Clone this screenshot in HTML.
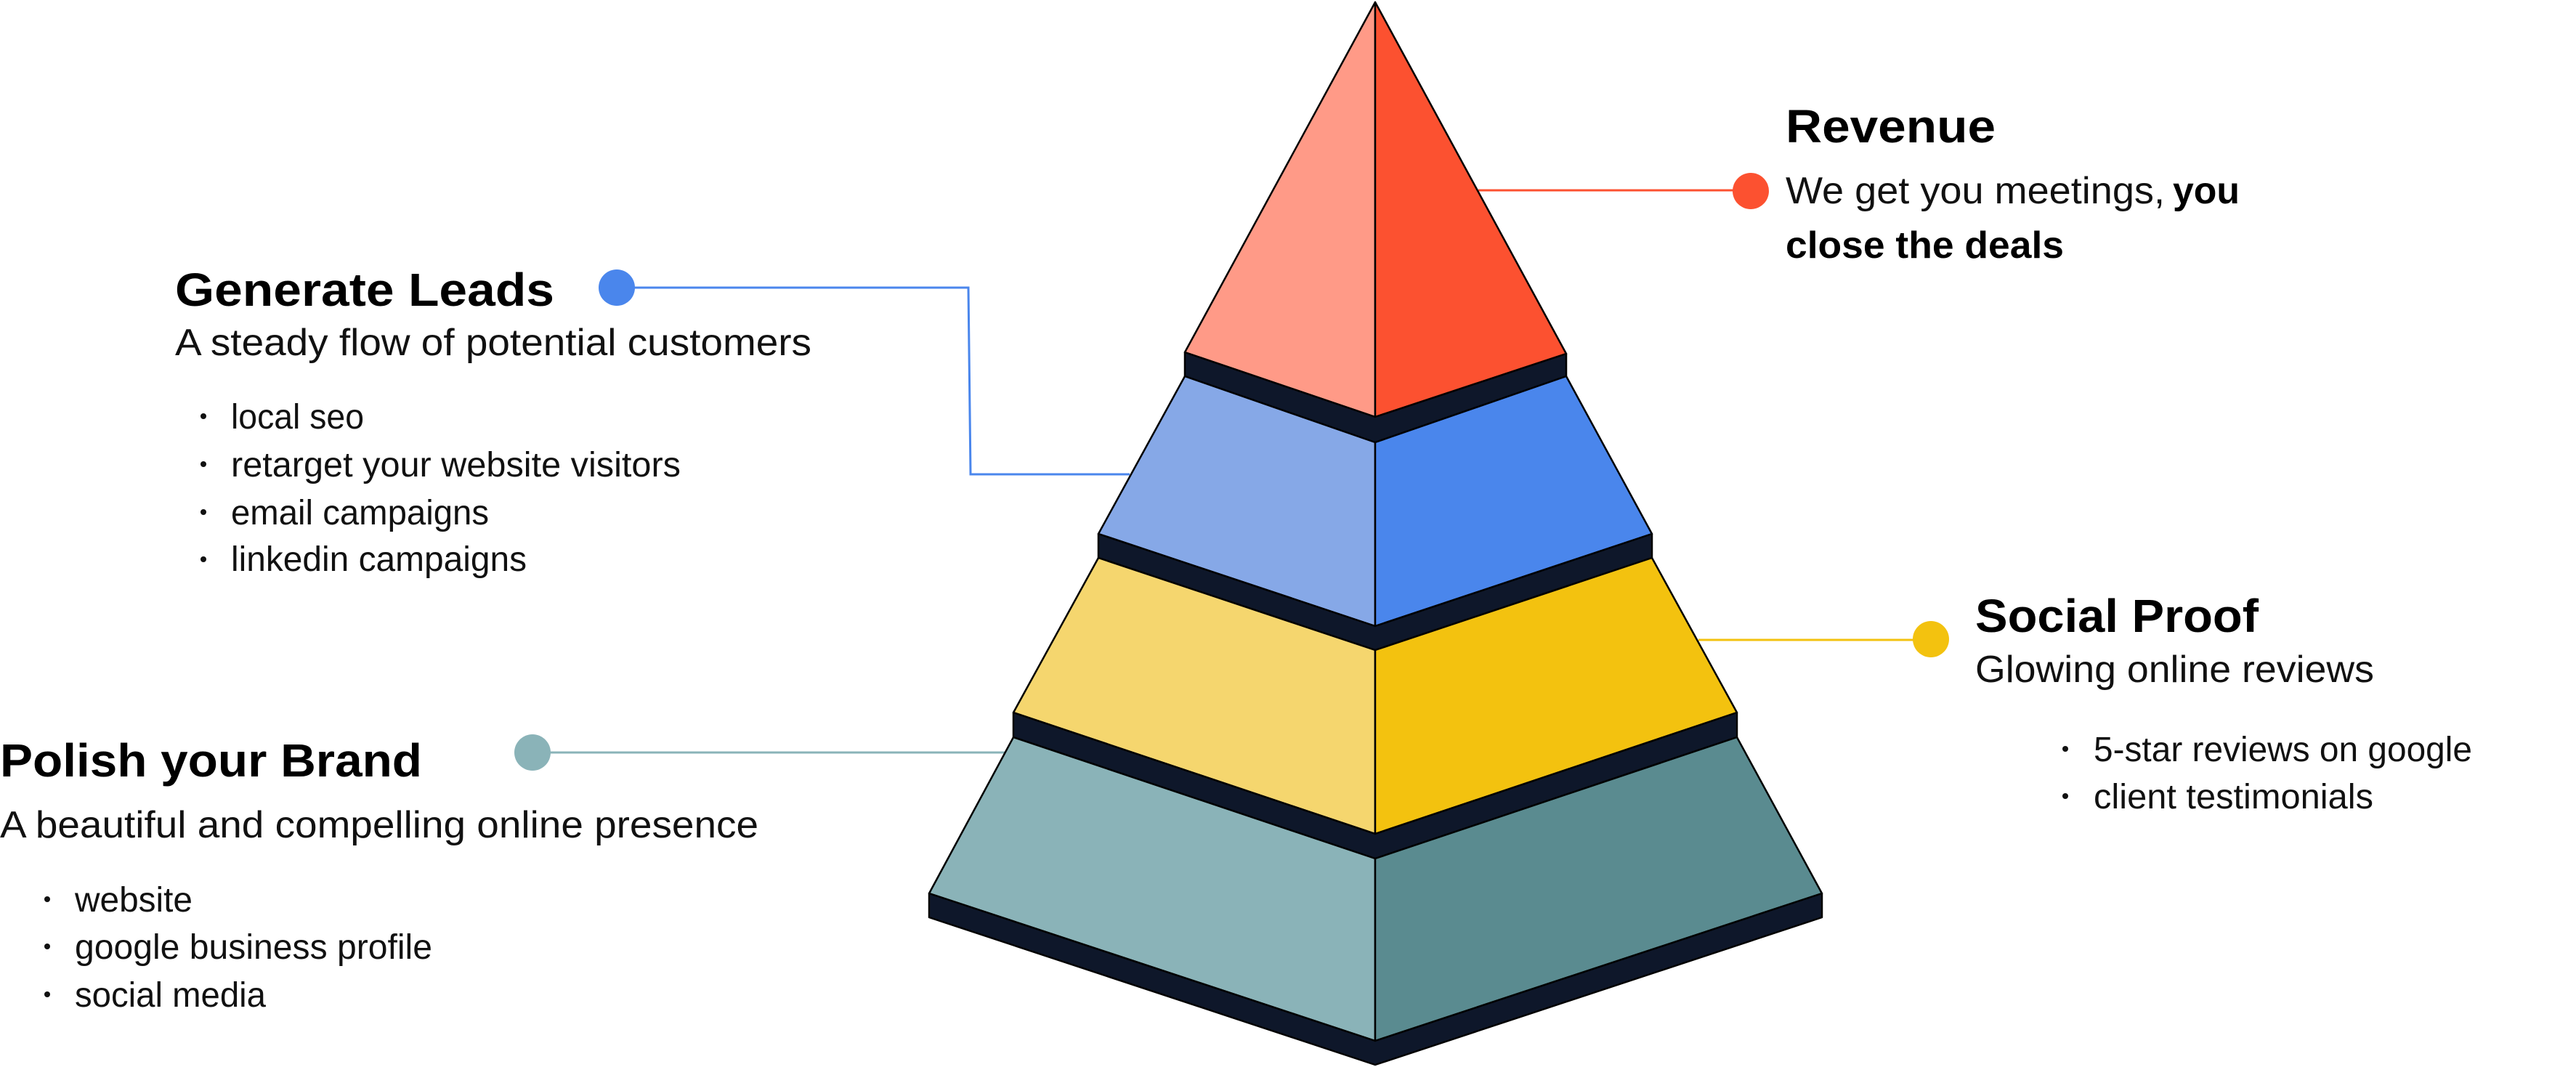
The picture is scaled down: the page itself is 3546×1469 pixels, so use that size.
<!DOCTYPE html>
<html><head><meta charset="utf-8"><style>html,body{margin:0;padding:0;background:#fff}svg{display:block}</style></head>
<body>
<svg width="3546" height="1469" viewBox="0 0 3546 1469" xmlns="http://www.w3.org/2000/svg" font-family="'Liberation Sans', sans-serif">
<rect width="3546" height="1469" fill="#fff"/>
<!-- connectors -->
<polyline points="849,396 1333,396 1336,653 1555,653" fill="none" stroke="#4A86EC" stroke-width="3"/>
<line x1="733" y1="1036" x2="1383" y2="1036" stroke="#8AB3B8" stroke-width="3"/>
<line x1="2338" y1="881" x2="2658" y2="881" stroke="#F3C20F" stroke-width="3"/>
<line x1="2035" y1="262" x2="2410" y2="262" stroke="#FC5130" stroke-width="3"/>
<circle cx="849" cy="396" r="25" fill="#4A86EC"/>
<circle cx="733" cy="1036" r="25" fill="#8AB3B8"/>
<circle cx="2658" cy="880" r="25" fill="#F3C20F"/>
<circle cx="2410" cy="263" r="25" fill="#FC5130"/>
<!-- pyramid -->
<g stroke="#000" stroke-width="2.5" stroke-linejoin="round">
<polygon points="1893,3 1631,485 1893,574" fill="#FF9A87"/>
<polygon points="1893,3 2156,487 1893,574" fill="#FC5130"/>
<polygon points="1631,485 1893,574 2156,487 2156,518 1893,609 1631,518" fill="#0E172A"/>
<polygon points="1631,518 1893,609 1893,862 1512,735" fill="#86A8E7"/>
<polygon points="2156,518 2274,735 1893,862 1893,609" fill="#4A86EC"/>
<polygon points="1512,735 1893,862 2274,735 2274,768 1893,895 1512,768" fill="#0E172A"/>
<polygon points="1512,768 1893,895 1893,1148 1395,981" fill="#F5D66E"/>
<polygon points="2274,768 2391,981 1893,1148 1893,895" fill="#F3C20F"/>
<polygon points="1395,981 1893,1148 2391,981 2391,1015 1893,1182 1395,1015" fill="#0E172A"/>
<polygon points="1395,1015 1893,1182 1893,1433 1279,1230" fill="#8AB3B8"/>
<polygon points="2391,1015 2508,1230 1893,1433 1893,1182" fill="#5A8B90"/>
<polygon points="1279,1230 1893,1433 2508,1230 2508,1263 1893,1466 1279,1263" fill="#0E172A"/>
</g>
<!-- left texts -->
<g fill="#000">
<text x="241" y="421" font-size="64" font-weight="bold" textLength="522" lengthAdjust="spacingAndGlyphs">Generate Leads</text>
<text x="241" y="489" font-size="52" fill="#111" textLength="876" lengthAdjust="spacingAndGlyphs">A steady flow of potential customers</text>
<g font-size="48" fill="#111">
<circle cx="280" cy="573" r="4"/><text x="318" y="590" textLength="183" lengthAdjust="spacingAndGlyphs">local seo</text>
<circle cx="280" cy="639" r="4"/><text x="318" y="656" textLength="619" lengthAdjust="spacingAndGlyphs">retarget your website visitors</text>
<circle cx="280" cy="705" r="4"/><text x="318" y="722" textLength="355" lengthAdjust="spacingAndGlyphs">email campaigns</text>
<circle cx="280" cy="770" r="4"/><text x="318" y="786" textLength="407" lengthAdjust="spacingAndGlyphs">linkedin campaigns</text>
</g>
<text x="0" y="1069" font-size="64" font-weight="bold" textLength="581" lengthAdjust="spacingAndGlyphs">Polish your Brand</text>
<text x="0" y="1153" font-size="52" fill="#111" textLength="1044" lengthAdjust="spacingAndGlyphs">A beautiful and compelling online presence</text>
<g font-size="48" fill="#111">
<circle cx="65" cy="1238" r="4"/><text x="103" y="1255" textLength="162" lengthAdjust="spacingAndGlyphs">website</text>
<circle cx="65" cy="1303" r="4"/><text x="103" y="1320" textLength="492" lengthAdjust="spacingAndGlyphs">google business profile</text>
<circle cx="65" cy="1369" r="4"/><text x="103" y="1386" textLength="263" lengthAdjust="spacingAndGlyphs">social media</text>
</g>
<!-- right texts -->
<text x="2458" y="196" font-size="64" font-weight="bold" textLength="289" lengthAdjust="spacingAndGlyphs">Revenue</text>
<text x="2458" y="280" font-size="52" fill="#111" textLength="522" lengthAdjust="spacingAndGlyphs">We get you meetings,</text>
<text x="2991" y="280" font-size="52" font-weight="bold" textLength="92" lengthAdjust="spacingAndGlyphs">you</text>
<text x="2458" y="355" font-size="52" font-weight="bold" textLength="383" lengthAdjust="spacingAndGlyphs">close the deals</text>
<text x="2719" y="870" font-size="64" font-weight="bold" textLength="390" lengthAdjust="spacingAndGlyphs">Social Proof</text>
<text x="2719" y="939" font-size="52" fill="#111" textLength="549" lengthAdjust="spacingAndGlyphs">Glowing online reviews</text>
<g font-size="48" fill="#111">
<circle cx="2843" cy="1031" r="4"/><text x="2882" y="1048" textLength="521" lengthAdjust="spacingAndGlyphs">5-star reviews on google</text>
<circle cx="2843" cy="1096" r="4"/><text x="2882" y="1113" textLength="385" lengthAdjust="spacingAndGlyphs">client testimonials</text>
</g>
</g>
</svg>
</body></html>
